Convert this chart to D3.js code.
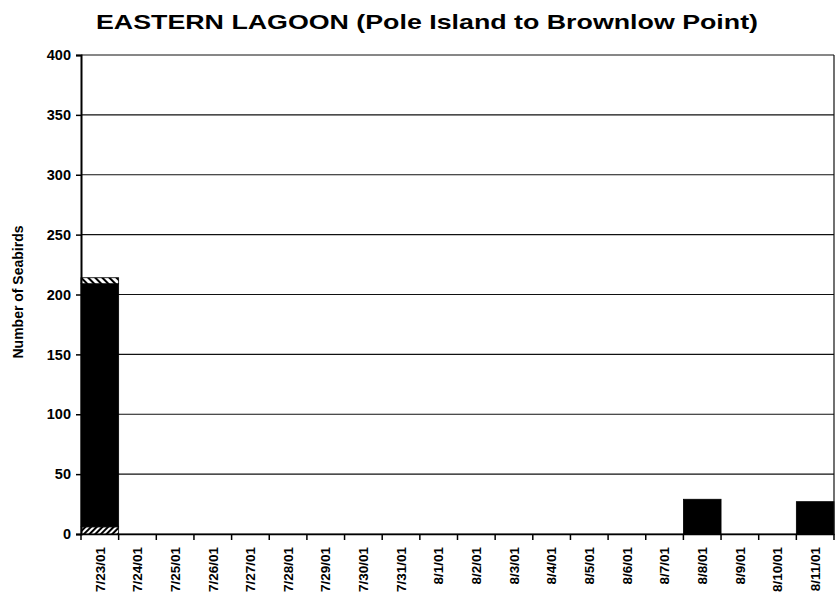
<!DOCTYPE html>
<html><head><meta charset="utf-8">
<script src="https://cdn.jsdelivr.net/npm/d3@7"></script>
<style>body{margin:0;background:#fff}svg{display:block}</style>
</head><body>
<svg id="c" width="837" height="600"></svg>
<script>
const categories = ["7/23/01","7/24/01","7/25/01","7/26/01","7/27/01","7/28/01","7/29/01","7/30/01","7/31/01","8/1/01","8/2/01","8/3/01","8/4/01","8/5/01","8/6/01","8/7/01","8/8/01","8/9/01","8/10/01","8/11/01"];
const bottomHatched = [6,0,0,0,0,0,0,0,0,0,0,0,0,0,0,0,0,0,0,0];
const solidBlack   = [203,0,0,0,0,0,0,0,0,0,0,0,0,0,0,0,29,0,0,27];
const topHatched   = [5,0,0,0,0,0,0,0,0,0,0,0,0,0,0,0,0,0,0,0];
const yTicks = [0,50,100,150,200,250,300,350,400];

const svg = d3.select("#c");
const m = {l:81, r:834, t:55, b:534};
const x = d3.scaleBand().domain(categories).range([m.l, m.r]).padding(0);
const y = d3.scaleLinear().domain([0,400]).range([m.b, m.t]);
const FONT = "Arial, Liberation Sans, sans-serif";

const defs = svg.append("defs");
const p1 = defs.append("pattern").attr("id","hatchA").attr("patternUnits","userSpaceOnUse").attr("width",4).attr("height",4).attr("patternTransform","rotate(45)");
p1.append("rect").attr("width",4).attr("height",4).attr("fill","#fff");
p1.append("rect").attr("width",2).attr("height",4).attr("fill","#000");
const p2 = defs.append("pattern").attr("id","hatchB").attr("patternUnits","userSpaceOnUse").attr("width",5).attr("height",5).attr("patternTransform","rotate(-45)");
p2.append("rect").attr("width",5).attr("height",5).attr("fill","#fff");
p2.append("rect").attr("width",2).attr("height",5).attr("fill","#000");

// gridlines
svg.append("g").selectAll("line").data(yTicks).join("line")
  .attr("x1", m.l).attr("x2", m.r)
  .attr("y1", d=>y(d)).attr("y2", d=>y(d))
  .attr("stroke","#111").attr("stroke-width",1.2);

// stacked bars
const stackData = categories.map((c,i)=>({c, a:bottomHatched[i], b:solidBlack[i], t:topHatched[i]}));
const stack = d3.stack().keys(["a","b","t"])(stackData);
const fills = {a:"url(#hatchA)", b:"#000", t:"url(#hatchB)"};
stack.forEach(s=>{
  svg.append("g").selectAll("rect").data(s.filter(d=>d[1]>d[0])).join("rect")
    .attr("x", d=>x(d.data.c)).attr("width", x.bandwidth())
    .attr("y", d=>y(d[1])).attr("height", d=>y(d[0])-y(d[1]))
    .attr("fill", fills[s.key]).attr("stroke","#000").attr("stroke-width",0.8);
});

// right border
svg.append("line").attr("x1",m.r).attr("x2",m.r).attr("y1",m.t).attr("y2",m.b).attr("stroke","#111").attr("stroke-width",1.2);

// y axis
const ya = svg.append("g").attr("transform",`translate(${m.l},0)`)
  .call(d3.axisLeft(y).tickValues(yTicks).tickSize(5).tickPadding(5));
ya.select(".domain").attr("stroke","#000").attr("stroke-width",2);
ya.selectAll("text").attr("font-family",FONT).attr("font-size",14.5).attr("font-weight","bold").attr("fill","#000");
ya.selectAll(".tick line").attr("stroke","#000").attr("stroke-width",1.5);

// x axis
const xa = svg.append("g").attr("transform",`translate(0,${m.b})`)
  .call(d3.axisBottom(x).tickSize(0).tickPadding(0));
xa.select(".domain").attr("stroke","#000").attr("stroke-width",1.5);
xa.selectAll(".tick text")
  .attr("transform","rotate(-90)")
  .attr("text-anchor","end").attr("x",-13).attr("y",0).attr("dy","0.35em")
  .attr("font-family",FONT).attr("font-size",13.5).attr("font-weight","bold").attr("fill","#000");
// boundary ticks
svg.append("g").selectAll("line").data(d3.range(categories.length+1)).join("line")
  .attr("x1", i=>m.l + i*x.step()).attr("x2", i=>m.l + i*x.step())
  .attr("y1", m.b).attr("y2", m.b+6).attr("stroke","#000").attr("stroke-width",1.5);

// title
svg.append("text").attr("x",96).attr("y",29).attr("text-anchor","start")
  .attr("font-family",FONT).attr("font-size",21).attr("font-weight","bold")
  .attr("textLength",662).attr("lengthAdjust","spacingAndGlyphs")
  .text("EASTERN LAGOON (Pole Island to Brownlow Point)");

// y label
svg.append("text").attr("transform",`translate(23,292) rotate(-90)`).attr("text-anchor","middle")
  .attr("font-family",FONT).attr("font-size",14).attr("font-weight","bold")
  .text("Number of Seabirds");
</script>
</body></html>
